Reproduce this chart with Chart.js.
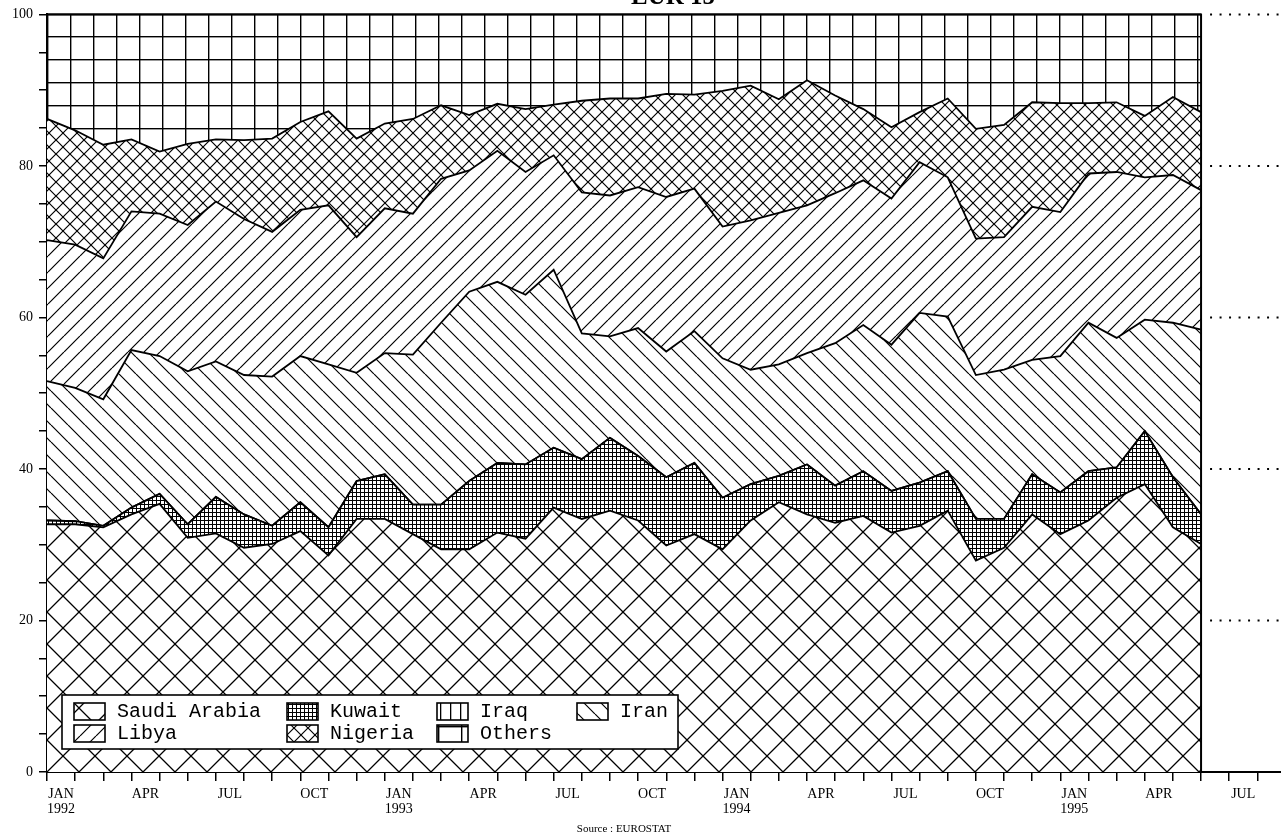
<!DOCTYPE html>
<html lang="en">
<head>
<meta charset="UTF-8">
<title>EUR 15 - crude oil imports by origin</title>
<script src="https://cdn.jsdelivr.net/npm/chart.js"></script>
<style>
  html, body { margin: 0; padding: 0; background: #fff; }
  #chart { display: block; }
</style>
</head>
<body>
<canvas id="chart" width="1281" height="838"></canvas>
<script>
// months Jan 1992 .. Jun 1995
const months = [
  'Jan 1992','Feb 1992','Mar 1992','Apr 1992','May 1992','Jun 1992','Jul 1992','Aug 1992','Sep 1992','Oct 1992','Nov 1992','Dec 1992',
  'Jan 1993','Feb 1993','Mar 1993','Apr 1993','May 1993','Jun 1993','Jul 1993','Aug 1993','Sep 1993','Oct 1993','Nov 1993','Dec 1993',
  'Jan 1994','Feb 1994','Mar 1994','Apr 1994','May 1994','Jun 1994','Jul 1994','Aug 1994','Sep 1994','Oct 1994','Nov 1994','Dec 1994',
  'Jan 1995','Feb 1995','Mar 1995','Apr 1995','May 1995','Jun 1995'
];

// shares in %, stacked from the bottom
const saudi   = [32.7,32.7,32.3,34.0,35.4,30.9,31.5,29.6,30.1,31.8,28.6,33.4,33.4,31.4,29.4,29.4,31.6,30.8,34.9,33.4,34.5,33.2,29.9,31.4,29.4,33.2,35.6,34.0,32.9,33.8,31.6,32.5,34.5,27.9,29.6,34.0,31.4,33.2,36.2,38.0,32.3,30.1];
const kuwait  = [0.5,0.4,0.2,0.9,1.3,1.8,4.8,4.4,2.4,3.8,3.7,5.0,5.9,3.9,5.9,9.0,9.2,9.8,7.9,7.9,9.6,8.5,9.0,9.4,6.8,4.8,3.5,6.6,4.9,5.9,5.5,5.7,5.2,5.5,3.8,5.3,5.5,6.5,4.0,7.0,6.6,3.9];
const iraq    = [0,0,0,0,0,0,0,0,0,0,0,0,0,0,0,0,0,0,0,0,0,0,0,0,0,0,0,0,0,0,0,0,0,0,0,0,0,0,0,0,0,0];
const iran    = [18.4,17.6,16.7,20.8,18.2,20.2,17.9,18.4,19.7,19.3,21.5,14.3,16.0,19.8,24.0,25.0,23.9,22.4,23.5,16.6,13.4,16.9,16.6,17.4,18.4,15.1,14.7,14.7,18.8,19.3,19.3,22.4,20.4,19.0,19.7,15.1,18.0,19.6,17.1,14.7,20.4,24.4];
const libya   = [18.6,18.9,18.6,18.3,18.8,19.3,21.1,20.6,19.1,19.3,21.0,17.9,19.1,18.6,19.0,16.0,17.3,16.2,15.1,18.6,18.6,18.6,20.4,18.8,17.4,19.7,20.0,19.5,19.8,19.1,19.3,19.9,18.4,18.0,17.5,20.2,19.0,19.7,21.9,18.8,19.5,18.4];
const nigeria = [16.0,15.1,15.0,9.5,8.2,10.7,8.2,10.4,12.3,11.6,12.4,13.0,11.2,12.5,9.7,7.3,6.2,8.3,6.7,12.1,12.8,11.7,13.6,12.4,17.9,17.8,15.0,16.5,12.9,9.4,9.4,6.6,10.4,14.5,14.8,13.8,14.4,9.3,9.2,8.1,10.3,10.3];
const others  = [13.8,15.3,17.2,16.5,18.1,17.1,16.5,16.6,16.4,14.2,12.8,16.4,14.4,13.8,12.0,13.3,11.8,12.5,11.9,11.4,11.1,11.1,10.5,10.6,10.1,9.4,11.2,8.7,10.7,12.5,14.9,12.9,11.1,15.1,14.6,11.6,11.7,11.7,11.6,13.4,10.9,12.9];

// axis labels
const tickMonths = [0,3,6,9,12,15,18,21,24,27,30,33,36,39,42];
const tickLabels = [['JAN','1992'],'APR','JUL','OCT',['JAN','1993'],'APR','JUL','OCT',['JAN','1994'],'APR','JUL','OCT',['JAN','1995'],'APR','JUL'];
const yLabelled = [0,20,40,60,80,100];

// hatch patterns
function makePattern(w, h, draw, ox, oy) {
  const c = document.createElement('canvas');
  c.width = w; c.height = h;
  const g = c.getContext('2d');
  g.fillStyle = '#fff';
  g.fillRect(0, 0, w, h);
  g.strokeStyle = '#000';
  g.fillStyle = '#000';
  draw(g, w, h);
  const p = g.createPattern(c, 'repeat');
  if (ox || oy) p.setTransform(new DOMMatrix().translate(ox || 0, oy || 0));
  return p;
}
function back(g, w, h) {   // "\\"
  g.beginPath();
  for (const k of [-1, 0, 1]) { g.moveTo(k * w, 0); g.lineTo(k * w + w, h); }
  g.stroke();
}
function fwd(g, w, h) {    // "//"
  g.beginPath();
  for (const k of [-1, 0, 1]) { g.moveTo(k * w, h); g.lineTo(k * w + w, 0); }
  g.stroke();
}
function cross(lw) {
  return (g, w, h) => { g.lineWidth = lw; back(g, w, h); fwd(g, w, h); };
}
function grid(lw) {
  return (g, w, h) => { g.fillRect(0, 0, lw, h); g.fillRect(0, 0, w, lw); };
}

const pats = {
  saudi:   makePattern(32, 32, cross(1.3), 47, 4),
  kuwait:  makePattern(4, 4, grid(1)),
  iraq:    makePattern(10, 10, (g, w, h) => g.fillRect(0, 0, 1.3, h)),
  iran:    makePattern(17, 17, (g, w, h) => { g.lineWidth = 1.2; back(g, w, h); }),
  libya:   makePattern(16, 16, (g, w, h) => { g.lineWidth = 1.2; fwd(g, w, h); }),
  nigeria: makePattern(14, 14, cross(1.2)),
  others:  makePattern(23, 23, grid(1.4), 47, 13)
};

const series = [
  { label: 'Saudi Arabia', values: saudi,   pat: pats.saudi },
  { label: 'Kuwait',       values: kuwait,  pat: pats.kuwait },
  { label: 'Iraq',         values: iraq,    pat: pats.iraq },
  { label: 'Iran',         values: iran,    pat: pats.iran },
  { label: 'Libya',        values: libya,   pat: pats.libya },
  { label: 'Nigeria',      values: nigeria, pat: pats.nigeria },
  { label: 'Others',       values: others,  pat: pats.others }
];

const serif = 'Liberation Serif, Times New Roman, serif';

// frame, dotted guides, legend, title, source
const decor = {
  id: 'decor',
  afterDraw(chart) {
    const { ctx, scales: { x, y } } = chart;
    const xr = x.getPixelForValue(months.length - 1);
    const yt = y.getPixelForValue(100), yb = y.getPixelForValue(0);
    ctx.save();
    ctx.strokeStyle = '#000';
    ctx.lineWidth = 2;
    ctx.beginPath();
    ctx.moveTo(x.left, yt); ctx.lineTo(xr, yt); ctx.lineTo(xr, yb);
    ctx.stroke();

    ctx.setLineDash([2, 7.5]);
    for (const v of yLabelled) {
      if (v === 0) continue;
      const py = y.getPixelForValue(v);
      ctx.beginPath(); ctx.moveTo(xr + 9, py); ctx.lineTo(x.right, py); ctx.stroke();
    }
    ctx.setLineDash([]);

    // legend
    const bx = 62, by = 695, bw = 616, bh = 54;
    ctx.fillStyle = '#fff';
    ctx.fillRect(bx, by, bw, bh);
    ctx.lineWidth = 1.6;
    ctx.strokeRect(bx, by, bw, bh);
    const colX = [12, 225, 375, 515];
    ctx.font = '20px "Liberation Mono", "Courier New", monospace';
    ctx.textBaseline = 'middle';
    ctx.textAlign = 'left';
    chart.data.datasets.forEach((ds, i) => {
      const sx = bx + colX[i % 4], sy = by + 8 + Math.floor(i / 4) * 22;
      ctx.fillStyle = ds.backgroundColor;
      ctx.fillRect(sx, sy, 31, 17);
      ctx.lineWidth = 1.6;
      ctx.strokeRect(sx, sy, 31, 17);
      ctx.fillStyle = '#000';
      ctx.fillText(ds.label, sx + 43, sy + 9);
    });

    // title (cut by the top edge, as in the scan)
    ctx.font = 'bold 25px ' + serif;
    ctx.textAlign = 'center';
    ctx.textBaseline = 'alphabetic';
    ctx.fillText('EUR 15', 673, 4);

    ctx.font = '11px ' + serif;
    ctx.fillText('Source : EUROSTAT', 624, 832);
    ctx.restore();
  }
};

new Chart(document.getElementById('chart'), {
  type: 'line',
  data: {
    datasets: series.map((s, i) => ({
      label: s.label,
      data: s.values.map((v, k) => ({ x: k, y: v })),
      backgroundColor: s.pat,
      borderColor: '#000',
      borderWidth: 1.8,
      fill: i === 0 ? 'origin' : '-1',
      pointRadius: 0,
      tension: 0,
      clip: 6
    }))
  },
  options: {
    responsive: false,
    animation: false,
    layout: { padding: { top: 13, left: 0, right: 0, bottom: 0 } },
    plugins: { legend: { display: false }, tooltip: { enabled: false } },
    elements: { line: { borderJoinStyle: 'miter' } },
    scales: {
      x: {
        type: 'linear', min: 0, max: 43.84, z: 1,
        border: { color: '#000', width: 2 },
        grid: { drawOnChartArea: false, color: '#000', lineWidth: 1.5, tickLength: 9 },
        ticks: {
          stepSize: 1, autoSkip: false, includeBounds: false, maxRotation: 0,
          labelOffset: 14, padding: 6, color: '#000',
          font: { family: serif, size: 14, lineHeight: 1.05 },
          callback: (v) => { const i = tickMonths.indexOf(v); return i >= 0 ? tickLabels[i] : ''; }
        },
        afterFit: (s) => { s.height = 66; }
      },
      y: {
        stacked: true, min: 0, max: 100, z: 1,
        border: { color: '#000', width: 2 },
        grid: { drawOnChartArea: false, color: '#000', lineWidth: 1.5, tickLength: 8 },
        ticks: {
          stepSize: 5, autoSkip: false, padding: 6, color: '#000',
          font: { family: serif, size: 14 },
          callback: (v) => yLabelled.includes(v) ? String(v) : ''
        },
        afterFit: (s) => { s.width = 47; }
      }
    }
  },
  plugins: [decor]
});
</script>
</body>
</html>
